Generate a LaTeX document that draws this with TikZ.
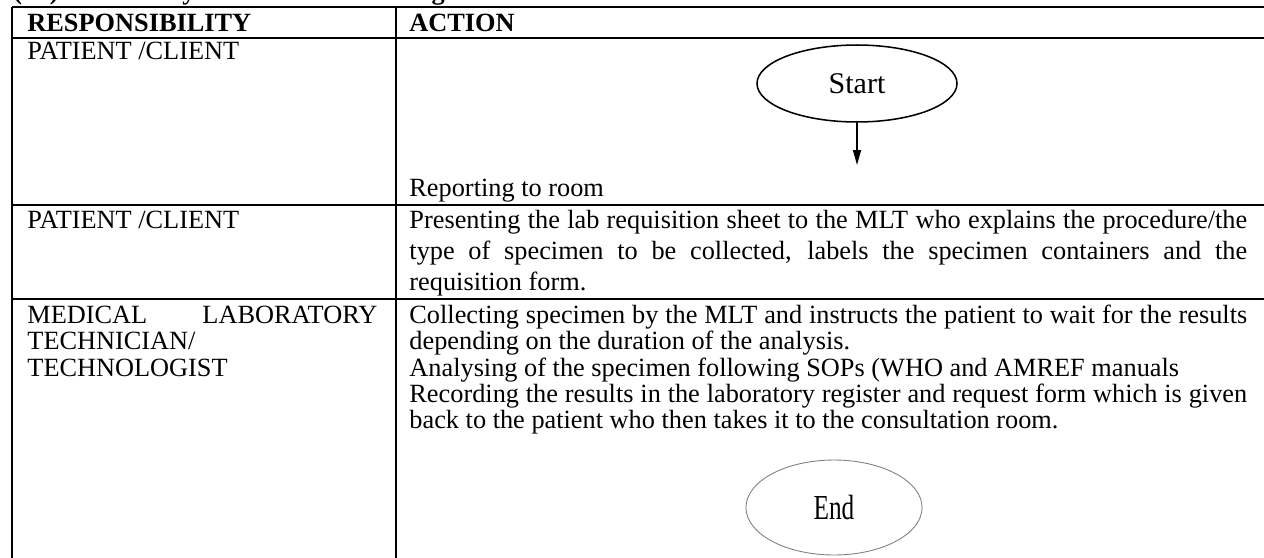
\documentclass[tikz,border=0pt]{standalone}
\usepackage{fontspec}
\setmainfont{Liberation Serif}
\usetikzlibrary{shapes.geometric,arrows.meta,positioning}

\tikzset{
  rule/.style={line width=1pt},
  cell/.style={anchor=base west,inner sep=0pt,font=\fontsize{12}{12}\selectfont,align=left},
  actioncell/.style={cell,text width=382pt,align=justify},
  rolecell/.style={cell,text width=159.6pt,align=justify},
  terminal/.style={ellipse,inner sep=0pt,font=\fontsize{13.7}{14}\selectfont},
  flowarrow/.style={line width=.7pt,-{Triangle[width=3.6pt,length=6.8pt]}}
}

\begin{document}
\begin{tikzpicture}[x=0.456pt,y=-0.456pt]

\useasboundingbox (0,0) rectangle (1264,557) ;
\clip (0,0) rectangle (1264,557) ;

%heading, cut off by the page edge
\node [cell,font=\fontsize{12}{12}\bfseries] (title) at (13,-1) {(vii) Laboratory examination and diagnosis} ;

%table rules
\draw [rule] (12,6.7) to (1270,6.7) ;
\draw [rule] (12,38.3) to (1270,38.3) ;
\draw [rule] (12,205) to (1270,205) ;
\draw [rule] (12,299.3) to (1270,299.3) ;
\draw [rule] (12,6.7) to (12,560) ;
\draw [rule] (395.6,6.7) to (395.6,560) ;

%header
\node [cell,font=\fontsize{12}{12}\bfseries] (resp) at (27,31.5) {RESPONSIBILITY} ;
\node [cell,font=\fontsize{12}{12}\bfseries] (action) at (409,31.5) {ACTION} ;

%row 1
\node [cell] (role1) at (27,59) {PATIENT /CLIENT} ;
\node [terminal,draw,line width=.7pt,minimum width=91.2pt,minimum height=35.1pt] (start) at (857,83.5) {Start} ;
\coordinate (arrowtip) at (857,165) ;
\draw [flowarrow] (start.south) to (arrowtip) ;
\node [cell] (report) at (409,196.7) {Reporting to room} ;

%row 2
\node [cell] (role2) at (27,228.3) {PATIENT /CLIENT} ;
\node [actioncell,font=\fontsize{12}{14.2}\selectfont] (present) at (409,228.3)
  {Presenting the lab requisition sheet to the MLT who explains the procedure/the\linebreak
   type of specimen to be collected, labels the specimen containers and the\linebreak
   requisition form.} ;

%row 3
\node [rolecell] (role3) at (27,323.5)
  {MEDICAL\hfill LABORATORY\newline TECHNICIAN/\newline TECHNOLOGIST} ;
\node [actioncell] (collect) at (409,323.5)
  {Collecting specimen by the MLT and instructs the patient to wait for the results\linebreak
   depending on the duration of the analysis.\par
   Analysing of the specimen following SOPs (WHO and AMREF manuals\par
   Recording the results in the laboratory register and request form which is given\linebreak
   back to the patient who then takes it to the consultation room.} ;
\node [terminal,draw=gray,line width=.4pt,minimum width=80.3pt,minimum height=43.3pt,font=\fontsize{16}{16}\selectfont] (end) at (834,507.5) {\scalebox{.72}[1]{End}} ;

\end{tikzpicture}
\end{document}
